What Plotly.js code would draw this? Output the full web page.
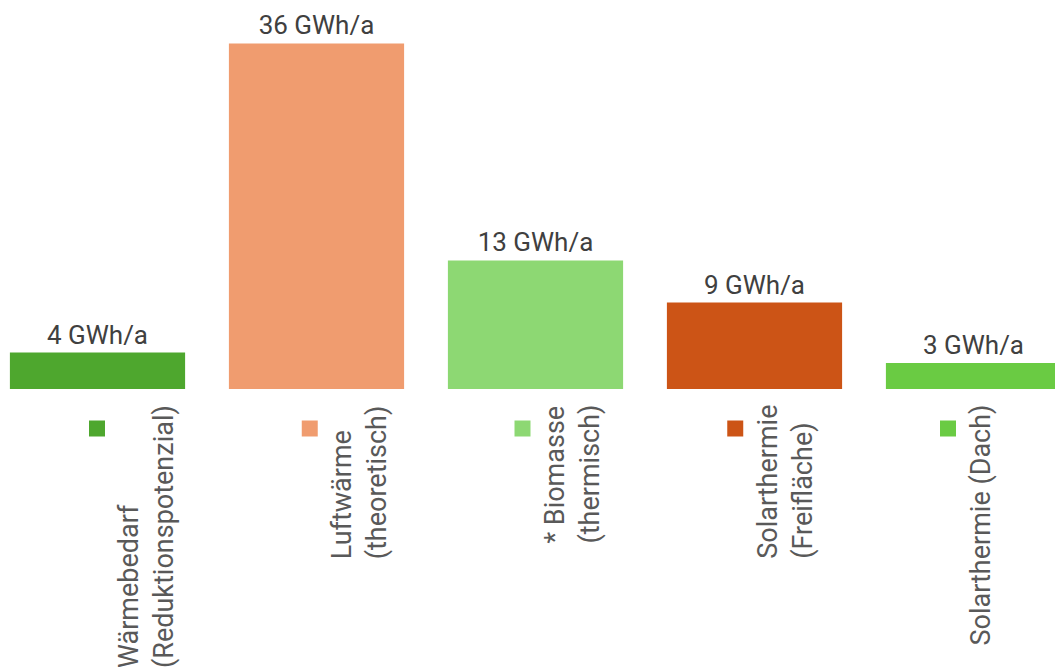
<!DOCTYPE html>
<html>
<head>
<meta charset="utf-8">
<script src="https://cdn.plot.ly/plotly-3.0.1.min.js"></script>
<style>html,body{margin:0;padding:0;background:#fff;}#chart{width:1055px;height:667px;}</style>
</head>
<body>
<div id="chart"></div>
<script>
// Data
const categories = ['Wärmebedarf (Reduktionspotenzial)', 'Luftwärme (theoretisch)', '* Biomasse (thermisch)', 'Solarthermie (Freifläche)', 'Solarthermie (Dach)'];
const legendLabels = ['Wärmebedarf<br>(Reduktionspotenzial)', 'Luftwärme<br>(theoretisch)', '* Biomasse<br>(thermisch)', 'Solarthermie<br>(Freifläche)', 'Solarthermie (Dach)'];
const values = [3.8, 36, 13.4, 9.0, 2.7];
const valueLabels = ['4 GWh/a', '36 GWh/a', '13 GWh/a', '9 GWh/a', '3 GWh/a'];
const colors = ['#4EA72E', '#F09C6F', '#8DD873', '#CC5416', '#6ACB43'];

const W = 1055, H = 667;
const baseY = 389.5;          // pixel of bar baseline
const pxPerUnit = 9.61;
const catPitch = 219, firstCenter = 97.5;
const legStart = 89, legStep = 212.75;

const trace = {
  type: 'bar',
  x: categories,
  y: values,
  width: 0.8,
  marker: {color: colors},
  text: valueLabels,
  textposition: 'outside',
  textfont: {family: 'Roboto', size: 26, color: '#404040'},
  cliponaxis: false,
  hoverinfo: 'none'
};

const shapes = [];
const annotations = [];
legendLabels.forEach((lab, i) => {
  const xLeft = (legStart + i * legStep) / W;
  shapes.push({
    type: 'rect', xref: 'paper', yref: 'paper',
    xsizemode: 'pixel', ysizemode: 'pixel',
    xanchor: xLeft, yanchor: 0,
    x0: 0, x1: 16, y0: -(421 - baseY), y1: -(437 - baseY),
    fillcolor: colors[i], line: {width: 0}
  });
  annotations.push({
    xref: 'paper', yref: 'paper',
    x: xLeft, xshift: 22, xanchor: 'left',
    y: 0, yshift: -14, yanchor: 'top',
    text: lab, textangle: -90, align: 'left', showarrow: false,
    font: {family: 'Roboto', size: 27, color: '#595959'}
  });
});

const layout = {
  width: W, height: H,
  margin: {l: 0, r: 0, t: 0, b: H - baseY, pad: 0},
  paper_bgcolor: '#ffffff', plot_bgcolor: '#ffffff',
  showlegend: false,
  xaxis: {
    type: 'category', visible: false,
    range: [-firstCenter / catPitch, -firstCenter / catPitch + W / catPitch]
  },
  yaxis: {visible: false, range: [0, baseY / pxPerUnit], fixedrange: true},
  shapes: shapes,
  annotations: annotations
};

Plotly.newPlot('chart', [trace], layout, {displayModeBar: false, staticPlot: true});
</script>
</body>
</html>
